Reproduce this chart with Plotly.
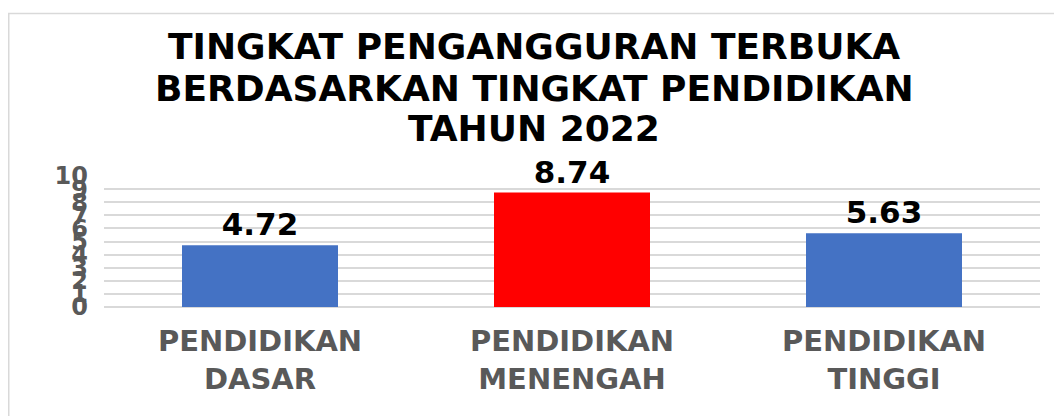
import plotly.graph_objects as go

categories = ["PENDIDIKAN<br>DASAR", "PENDIDIKAN<br>MENENGAH", "PENDIDIKAN<br>TINGGI"]
values = [4.72, 8.74, 5.63]
bar_colors = ["#4472C4", "#FF0000", "#4472C4"]
y_ticks = list(range(0, 11))
title_lines = ["TINGKAT PENGANGGURAN TERBUKA", "BERDASARKAN TINGKAT PENDIDIKAN", "TAHUN 2022"]

# the page body adds an 8px offset; compensate so the picture lines up
OFF = 8
W, H = 1062, 416
ml, mt = 104 - OFF, 176 - OFF
pw, ph = 936, 131
mr = W - ml - pw
mb = H - mt - ph

FONT = "DejaVu Sans"

def px_x(p):
    return (p - OFF - ml) / pw

def px_y(p):
    return (H - mb - (p - OFF)) / ph

fig = go.Figure(go.Bar(
    x=categories, y=values,
    marker=dict(color=bar_colors, line=dict(width=0)),
    text=[f"{v:.2f}" for v in values],
    textposition="outside",
    cliponaxis=False,
    textfont=dict(family=FONT, size=31, color="#000000", weight="bold"),
))

title_y = [46, 88, 128]
annotations = [
    dict(text=t, xref="paper", yref="paper", x=px_x(534), y=px_y(yc),
         xanchor="center", yanchor="middle", showarrow=False,
         font=dict(family=FONT, size=36, color="#000000", weight="bold"))
    for t, yc in zip(title_lines, title_y)
]

fig.update_layout(
    width=W, height=H,
    margin=dict(l=ml, r=mr, t=mt, b=mb),
    paper_bgcolor="white", plot_bgcolor="white",
    bargap=0.5,
    showlegend=False,
    annotations=annotations,
    xaxis=dict(
        tickfont=dict(family=FONT, size=29, color="#595959", weight="bold"),
        showgrid=False, showline=False, ticks="", ticklabelstandoff=14,
    ),
    yaxis=dict(
        range=[0, 10], tickvals=y_ticks,
        tickfont=dict(family=FONT, size=24, color="#595959", weight="bold"),
        showgrid=True, gridcolor="#D9D9D9", gridwidth=2,
        zeroline=True, zerolinecolor="#D9D9D9", zerolinewidth=2,
        showline=False, ticks="", ticklabelstandoff=15,
    ),
    shapes=[dict(
        type="rect", xref="paper", yref="paper",
        x0=px_x(OFF + 0.75), x1=px_x(1080), y0=px_y(440), y1=px_y(13.5),
        line=dict(color="#D9D9D9", width=1.5), fillcolor="rgba(0,0,0,0)", layer="below",
    )],
)

fig.write_html("out.html")
